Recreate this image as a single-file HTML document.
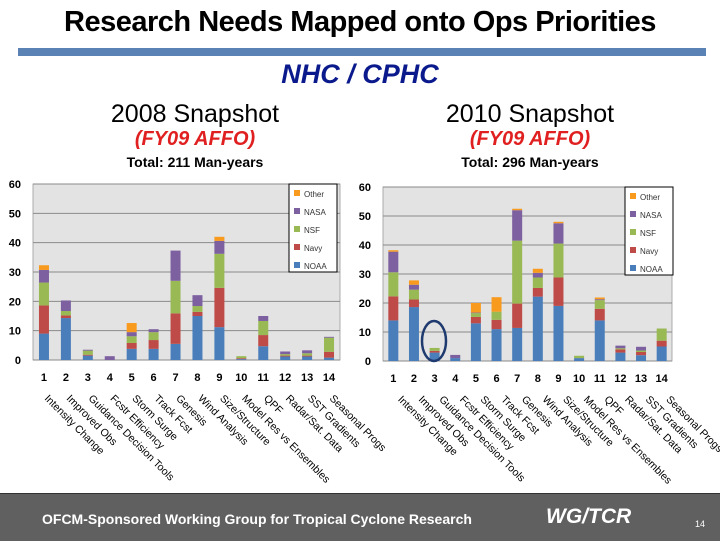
<!DOCTYPE html>
<html><head><meta charset="utf-8">
<style>
body{margin:0;width:720px;height:540px;background:#fff;overflow:hidden;font-family:"Liberation Sans",sans-serif;position:relative}
.t{position:absolute;white-space:nowrap;text-align:center}
</style></head>
<body>
<div class="t" style="left:0;width:720px;top:6px;font-size:29px;font-weight:bold;letter-spacing:-0.5px">Research Needs Mapped onto Ops Priorities</div>
<div style="position:absolute;left:18px;top:48px;width:688px;height:8px;background:#5a82b5"></div>
<div class="t" style="left:0;width:720px;top:59px;font-size:27px;font-weight:bold;font-style:italic;color:#0a1a8c">NHC / CPHC</div>
<div class="t" style="left:95px;width:200px;top:100px;font-size:25px">2008 Snapshot</div>
<div class="t" style="left:95px;width:200px;top:128px;font-size:20px;font-weight:bold;font-style:italic;color:#e02020">(FY09 AFFO)</div>
<div class="t" style="left:95px;width:200px;top:154px;font-size:14px;font-weight:bold">Total: 211 Man-years</div>
<div class="t" style="left:430px;width:200px;top:100px;font-size:25px">2010 Snapshot</div>
<div class="t" style="left:430px;width:200px;top:128px;font-size:20px;font-weight:bold;font-style:italic;color:#e02020">(FY09 AFFO)</div>
<div class="t" style="left:430px;width:200px;top:154px;font-size:14px;font-weight:bold">Total: 296 Man-years</div>

<svg id="charts" width="720" height="540" style="position:absolute;left:0;top:0"></svg>

<div style="position:absolute;left:0;top:493px;width:720px;height:47px;background:#606060;border-top:1px solid #333">
<div class="t" style="left:42px;top:17px;font-size:14px;font-weight:bold;color:#fff">OFCM-Sponsored Working Group for Tropical Cyclone Research</div>
<div class="t" style="left:546px;top:11px;font-size:21px;font-weight:bold;font-style:italic;color:#fff">WG/TCR</div>
<div class="t" style="left:695px;top:25px;font-size:9px;color:#fff">14</div>
</div>

<script>
const categories=["Intensity Change","Improved Obs","Guidance Decision Tools","Fcstr Efficiency","Storm Surge","Track Fcst","Genesis","Wind Analysis","Size/Structure","Model Res vs Ensembles","QPF","Radar/Sat. Data","SST Gradients","Seasonal Progs"];
const seriesNames=["NOAA","Navy","NSF","NASA","Other"];
const yTicks=[0,10,20,30,40,50,60];
const noaa2008=[9,14.3,1.5,0,3.8,3.8,5.5,15,11.2,0.3,4.7,1.2,1.2,0.8];
const navy2008=[9.6,0.9,0.3,0,2,3,10.4,1.4,13.4,0.3,3.8,0.3,0.3,2];
const nsf2008=[7.8,1.5,1.4,0,2.3,2.7,11.1,2,11.6,0.7,4.8,0.5,0.8,4.8];
const nasa2008=[4.3,3.6,0.3,1.3,1.4,1,10.3,3.7,4.4,0,1.7,0.9,1,0.3];
const other2008=[1.6,0,0,0,3.1,0,0,0,1.4,0,0,0,0,0];
const noaa2010=[14,18.6,2.9,1,13,11,11.4,22.2,19,1,14,2.9,2,5];
const navy2010=[8.3,2.6,0.6,0,2.2,3.2,8.4,3,9.8,0,4,1.1,1.1,2];
const nsf2010=[8.3,3.4,1,0,1.3,2.8,21.7,3.6,11.7,0.8,3,0.4,0.5,4.2];
const nasa2010=[7.1,1.7,0,1.1,0.2,0,10.5,1.6,7,0,0.3,0.9,1.3,0];
const other2010=[0.5,1.5,0,0,3.3,5,0.5,1.4,0.5,0,0.6,0,0,0];
const colors=["#4a7ebb","#be4b48","#98b954","#7d60a0","#f79a1e"];
const NS="http://www.w3.org/2000/svg";
const svg=document.getElementById('charts');
function mk(tag,attrs,parent){const e=document.createElementNS(NS,tag);for(const k in attrs)e.setAttribute(k,attrs[k]);(parent||svg).appendChild(e);return e;}

function drawChart(pre,L,R,T,B,data,legX,legY,labelOff){
  const g=mk('g',{});
  
  
  const y=v=>B-(v/60)*(B-T);
  const bw=(R-L)/categories.length;
  const x=i=>L+bw*(i+0.5);
  const bg=mk('rect',{x:L,y:T,width:R-L,height:B-T,fill:'#e3e3e3',stroke:'#999','stroke-width':0.8},g);
  
  
  yTicks.forEach(t=>{
    const ln=mk('line',{x1:L,x2:R,y1:y(t),y2:y(t),stroke:'#8a8a8a','stroke-width':1},g);
    
    
    const tx=mk('text',{x:L-12,y:y(t)+4,'text-anchor':'end','font-size':11,'font-weight':'bold','font-family':'Liberation Sans, sans-serif'},g);
    tx.textContent=t;
    
    
  });
  categories.forEach((c,i)=>{
    let acc=0;
    data.forEach((s,si)=>{
      const v=s[i];if(v<=0)return;
      const r=mk('rect',{x:x(i)-5,y:y(acc+v),width:10,height:y(acc)-y(acc+v),fill:colors[si]},g);
      
      
      acc+=v;
    });
    const n=mk('text',{x:x(i),y:B+21,'text-anchor':'middle','font-size':11,'font-weight':'bold','font-family':'Liberation Sans, sans-serif'},g);
    n.textContent=i+1;
    
    
    const lx=x(i)+labelOff, ly=B+39;
    const ct=mk('text',{x:lx,y:ly,transform:'rotate(45 '+lx+' '+ly+')','font-size':10.6,'font-family':'Liberation Sans, sans-serif'},g);
    ct.textContent=c;
    
    
  });
  const lg=mk('rect',{x:legX,y:legY,width:48,height:88,fill:'#fff',stroke:'#000','stroke-width':1},g);
  
  
  for(let k=0;k<5;k++){
    const si=4-k, yy=legY+10+k*18;
    const sw=mk('rect',{x:legX+5,y:yy-4,width:6,height:6,fill:colors[si]},g);
    
    
    const lt=mk('text',{x:legX+15,y:yy+3,'font-size':8,fill:'#333','font-family':'Liberation Sans, sans-serif'},g);
    lt.textContent=seriesNames[si];
    
    
  }
}
drawChart('left',33,340,184,360,[noaa2008,navy2008,nsf2008,nasa2008,other2008],289,184,0);
drawChart('right',383,672,187,361,[noaa2010,navy2010,nsf2010,nasa2010,other2010],625,187,4);
const ell=mk('ellipse',{cx:434,cy:341,rx:12,ry:20,fill:'none',stroke:'#1f3a6e','stroke-width':2.5});


</script>
</body></html>
